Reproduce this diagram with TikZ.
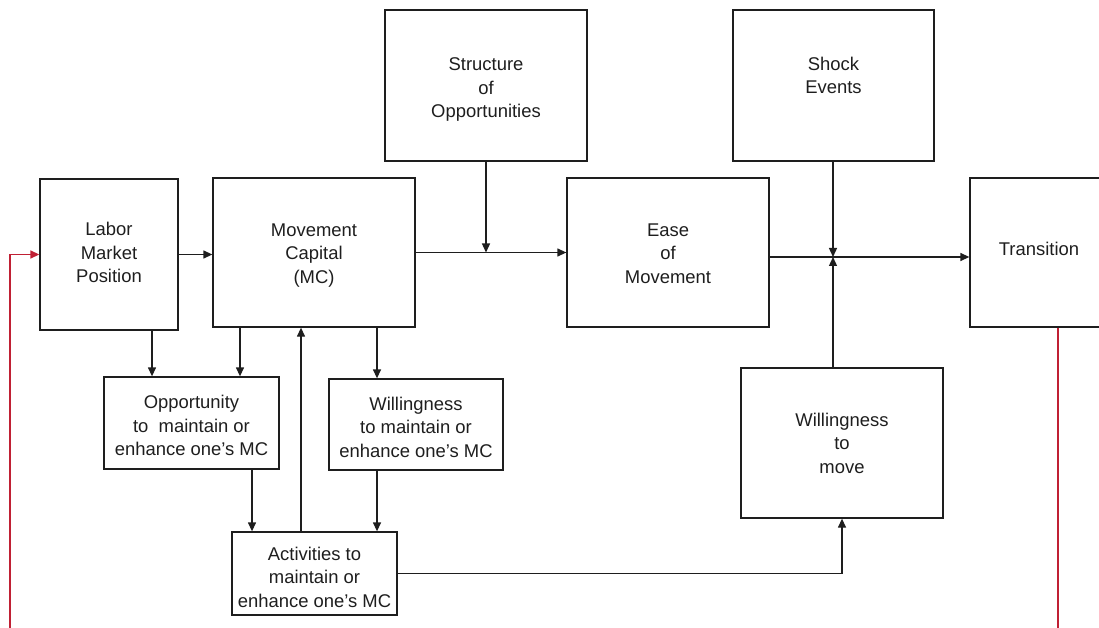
\documentclass[tikz,border=0pt]{standalone}
\usepackage{fontspec}
\setmainfont{Liberation Sans}
\usetikzlibrary{arrows.meta}
\definecolor{fbred}{RGB}{192,32,52}
\definecolor{ink}{RGB}{30,30,30}
\tikzset{
  box/.style={draw=ink, line width=1.3bp, inner sep=0pt},
  txt/.style={inner sep=0pt, align=center, text=ink,
    font=\fontsize{18.5}{23.5}\selectfont},
  conn/.style={draw=ink, line width=1.3bp, -{Triangle[length=9bp,width=8bp]}},
  redconn/.style={draw=fbred, line width=1.4bp, -{Triangle[length=9bp,width=8bp]}},
  redline/.style={draw=fbred, line width=1.4bp}
}
\begin{document}
\begin{tikzpicture}[x=1bp,y=-1bp]
\useasboundingbox (0,0) rectangle (1099,628);
% boxes
\node[box, minimum width=138bp, minimum height=151bp,
  label={[txt,yshift=2bp]center:{Labor\\Market\\Position}}] (lmp) at (109,254.5) {};
\node[box, minimum width=202bp, minimum height=149bp,
  label={[txt,yshift=-3bp]center:{Movement\\Capital\\(MC)}}] (mc) at (314,252.5) {};
\node[box, minimum width=202bp, minimum height=151bp,
  label={[txt,yshift=-4bp]center:{Structure\\of\\Opportunities}}] (soo) at (486,85.5) {};
\node[box, minimum width=202bp, minimum height=149bp,
  label={[txt,yshift=-1bp]center:{Ease\\of\\Movement}}] (eom) at (668,252.5) {};
\node[box, minimum width=201bp, minimum height=151bp,
  label={[txt,yshift=-5bp]center:{Shock\\Events\\\strut}}] (se) at (833.5,85.5) {};
\node[box, minimum width=138bp, minimum height=149bp,
  label={[txt,yshift=4bp]center:{Transition}}] (tr) at (1039,252.5) {};
\node[box, minimum width=175bp, minimum height=92bp,
  label={[txt,yshift=-2.5bp]center:{Opportunity\\to\ \ maintain or\\enhance one’s MC}}] (opp) at (191.5,423) {};
\node[box, minimum width=174bp, minimum height=91bp,
  label={[txt,yshift=-2.5bp]center:{Willingness\\to maintain or\\enhance one’s MC}}] (wil) at (416,424.5) {};
\node[box, minimum width=165bp, minimum height=83bp,
  label={[txt,yshift=-3.5bp]center:{Activities to\\maintain or\\enhance one’s MC}}] (act) at (314.5,573.5) {};
\node[box, minimum width=202bp, minimum height=150bp,
  label={[txt]center:{Willingness\\to\\move}}] (wtm) at (842,443) {};
% helper coordinates
\coordinate (j) at (833,257);
\coordinate (xa) at (152,0);
\coordinate (xb) at (240,0);
\coordinate (xc) at (377,0);
\coordinate (xd) at (252,0);
\coordinate (xe) at (301,0);
\coordinate (r1) at (10,628);
\coordinate (r2) at (1058,628);
% connectors
\draw[conn] (lmp.east) -- (lmp.east -| mc.west);
\draw[conn] (mc.east) -- (eom.west);
\draw[conn] (soo.south) -- (soo.south |- mc.east);
\draw[conn] (eom.east |- j) -- (tr.west |- j);
\draw[conn] (se.south -| j) -- (j);
\draw[conn] (wtm.north -| j) -- (j);
\draw[conn] (lmp.south -| xa) -- (opp.north -| xa);
\draw[conn] (mc.south -| xb) -- (opp.north -| xb);
\draw[conn] (mc.south -| xc) -- (wil.north -| xc);
\draw[conn] (opp.south -| xd) -- (act.north -| xd);
\draw[conn] (wil.south -| xc) -- (act.north -| xc);
\draw[conn] (act.north -| xe) -- (mc.south -| xe);
\draw[conn] (act.east) -| (wtm.south);
\draw[redconn] (r1) |- (lmp.west);
\draw[redline] (tr.south -| r2) -- (r2);
\end{tikzpicture}
\end{document}
